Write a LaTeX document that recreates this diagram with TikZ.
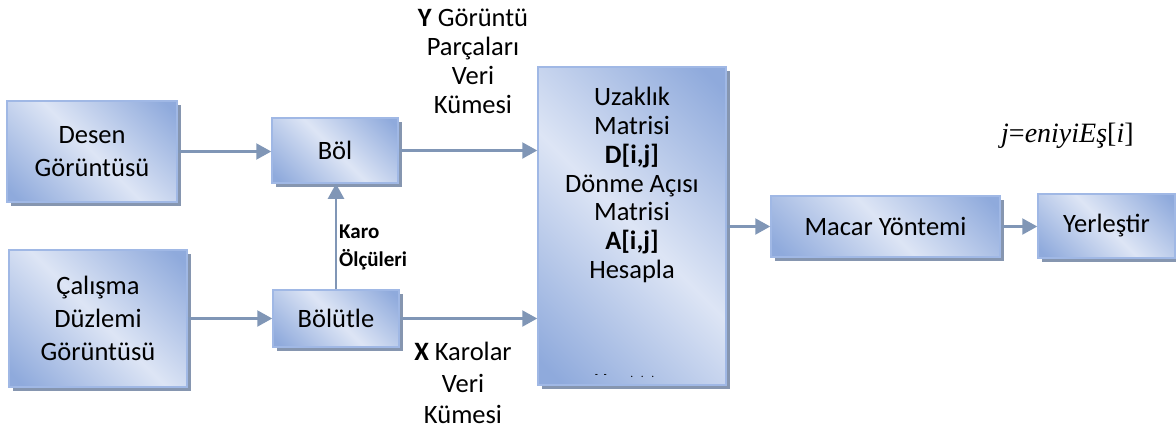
\documentclass[tikz,border=0pt]{standalone}
\usepackage{fontspec}
\setmainfont{Carlito}
\newfontfamily\formulafont{Liberation Serif}
\usetikzlibrary{arrows.meta,shadows}

\definecolor{bdark}{RGB}{143,170,220}
\definecolor{blight}{RGB}{221,229,245}
\definecolor{bedge}{RGB}{160,184,229}
\definecolor{bshadow}{RGB}{134,150,176}
\definecolor{arrowc}{RGB}{128,150,182}

% diagonal blue gradient used for every process box
\pgfdeclarehorizontalshading{boxgrad}{100bp}{color(0bp)=(bdark); color(18bp)=(bdark); color(50bp)=(blight); color(82bp)=(bdark); color(100bp)=(bdark)}

\begin{document}
\begin{tikzpicture}[x=1pt,y=-1pt,
  box/.style={draw=bedge, line width=1.5pt, shading=boxgrad, shading angle=45,
    general shadow={fill=bshadow, shadow xshift=4pt, shadow yshift=-4pt},
    inner sep=0pt, align=center, font=\fontsize{26.5}{33}\selectfont},
  flow/.style={draw=arrowc, line width=2.2pt, -{Triangle[length=15pt,width=16pt]}},
  note/.style={align=center, inner sep=0pt, font=\fontsize{26.5}{29}\selectfont}]

\useasboundingbox (0,0) rectangle (1176,432);

% process boxes
\node[box, minimum width=170pt, minimum height=101pt] (desen) at (92,151.5) {Desen\\Görüntüsü};
\node[box, minimum width=126pt, minimum height=65pt] (bol) at (335,150.5) {Böl};
\node[box, minimum width=178pt, minimum height=137pt] (calisma) at (98,318.5) {Çalışma\\Düzlemi\\Görüntüsü};
\node[box, minimum width=126pt, minimum height=57pt] (bolutle) at (336,318.5) {Bölütle};
\node[box, minimum width=188pt, minimum height=318pt] (hesap) at (632,226) {};
\node[box, minimum width=229pt, minimum height=61pt] (macar) at (885.5,226.5) {Macar Yöntemi};
\node[box, minimum width=137pt, minimum height=64pt] (yer) at (1106.5,226) {\raisebox{6pt}{Yerleştir}};

% text of the large box
\node[note, anchor=north, font=\fontsize{26.5}{28.8}\selectfont] (hesaptext) at (632,87)
  {Uzaklık\\Matrisi\\\textbf{D[i,j]}\\Dönme Açısı\\Matrisi\\\textbf{A[i,j]}\\Hesapla};
\node[inner sep=0pt, anchor=base west, font=\bfseries\fontsize{9}{9}\selectfont] (dots) at (595,377)
  {-\hspace{6pt}-\hspace{24pt}.\hspace{8pt}.\hspace{8pt}.};

% connector labels
\node[note, anchor=north] (ylabel) at (473,9) {\textbf{Y} Görüntü\\Parçaları\\Veri\\Kümesi};
\node[note, anchor=north, font=\fontsize{26.5}{31.5}\selectfont] (xlabel) at (463,342) {\textbf{X} Karolar\\Veri\\Kümesi};
\node[anchor=north west, inner sep=0pt, align=left, font=\bfseries\fontsize{21}{28}\selectfont] (karo) at (339,225) {Karo\\Ölçüleri};
\node[anchor=base west, inner sep=0pt, font=\formulafont\fontsize{28}{28}\selectfont] (eq) at (1001,142)
  {\textit{j}=\textit{eniyiEş}[\textit{i}]};

% connectors
\draw[flow] (desen.east) -- (desen.east -| bol.west);
\draw[flow] (bol.east) -- (bol.east -| hesap.west);
\draw[flow] (calisma.east) -- (calisma.east -| bolutle.west);
\draw[flow] (bolutle.east) -- (bolutle.east -| hesap.west);
\draw[flow] (bolutle.north) -- (bolutle.north |- bol.south);
\draw[flow] (hesap.east |- macar.west) -- (macar.west);
\draw[flow] (macar.east) -- (macar.east -| yer.west);
\end{tikzpicture}
\end{document}
